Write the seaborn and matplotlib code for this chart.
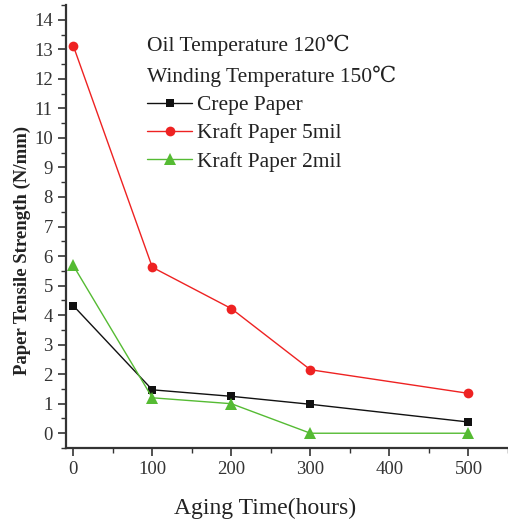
import matplotlib
matplotlib.use("Agg")
import matplotlib.pyplot as plt
import seaborn as sns
import pandas as pd
from matplotlib.lines import Line2D
from matplotlib.ticker import MultipleLocator

hours = [0, 100, 200, 300, 500]
crepe = [4.32, 1.47, 1.25, 0.98, 0.38]
kraft5 = [13.12, 5.62, 4.22, 2.15, 1.35]
kraft2 = [5.68, 1.2, 1.0, 0.0, 0.0]
series_names = ["Crepe Paper", "Kraft Paper 5mil", "Kraft Paper 2mil"]
notes = ["Oil Temperature 120℃", "Winding Temperature 150℃"]
colors = {"Crepe Paper": "#111111", "Kraft Paper 5mil": "#ee2222", "Kraft Paper 2mil": "#55bb33"}
markers = {"Crepe Paper": "s", "Kraft Paper 5mil": "o", "Kraft Paper 2mil": "^"}
msizes = {"Crepe Paper": 6, "Kraft Paper 5mil": 7, "Kraft Paper 2mil": 9}

df = pd.DataFrame({
    "hours": hours * 3,
    "value": crepe + kraft5 + kraft2,
    "series": sum([[n] * len(hours) for n in series_names], []),
})

sns.set_style("ticks")
plt.rcParams["font.family"] = ["Liberation Serif", "DejaVu Serif"]

W, H = 508, 523
fig = plt.figure(figsize=(W / 100, H / 100), dpi=100)
ax = fig.add_axes([66 / W, 1 - 448 / H, 442 / W, 443 / H])

for name in series_names:
    sub = df[df["series"] == name]
    sns.lineplot(data=sub, x="hours", y="value", ax=ax, color=colors[name],
                 marker=markers[name], markersize=msizes[name], markeredgewidth=0,
                 linewidth=1.0, legend=False)

ax.set_xlim(-9.2, 550)
ax.set_ylim(-0.5, 14.5)
ax.xaxis.set_major_locator(MultipleLocator(100))
ax.xaxis.set_minor_locator(MultipleLocator(50))
ax.yaxis.set_major_locator(MultipleLocator(1))
ax.yaxis.set_minor_locator(MultipleLocator(0.5))
ax.tick_params(which="major", direction="out", length=6, width=1.2, labelsize=13.5, colors="#333333")
ax.tick_params(which="minor", direction="out", length=3.5, width=1.0, colors="#333333")
for s in ["left", "bottom"]:
    ax.spines[s].set_linewidth(1.6)
    ax.spines[s].set_color("#333333")
ax.spines["top"].set_visible(False)
ax.spines["right"].set_visible(False)

ax.set_xlabel("Aging Time(hours)", fontsize=17, color="#222222")
ax.xaxis.set_label_coords((265 - 66) / 442, -(508 - 448) / 443, transform=ax.transAxes)
ax.xaxis.label.set_va("center")
ax.set_ylabel("Paper Tensile Strength (N/mm)", fontsize=13.5, fontweight="bold", color="#222222")
ax.yaxis.set_label_coords(-(66 - 22) / 442, (448 - 250) / 443, transform=ax.transAxes)
ax.yaxis.label.set_va("center")

fig.text(147 / W, 1 - 45 / H, notes[0], fontsize=15.5, color="#222222", va="center", ha="left")
fig.text(147 / W, 1 - 76 / H, notes[1], fontsize=15.5, color="#222222", va="center", ha="left")

handles = [Line2D([0], [0], color=colors[n], marker=markers[n], markersize=msizes[n],
                  markeredgewidth=0, linewidth=1.0) for n in series_names]
leg = fig.legend(handles, series_names, loc="upper left", bbox_to_anchor=(147 / W, 1 - 95 / H),
                 frameon=False, fontsize=15.5, handlelength=2.1,
                 handletextpad=0.2, labelspacing=0.38, borderaxespad=0, borderpad=0)
plt.setp(leg.get_texts(), color="#222222")
fig.savefig("out.png", dpi=100)
